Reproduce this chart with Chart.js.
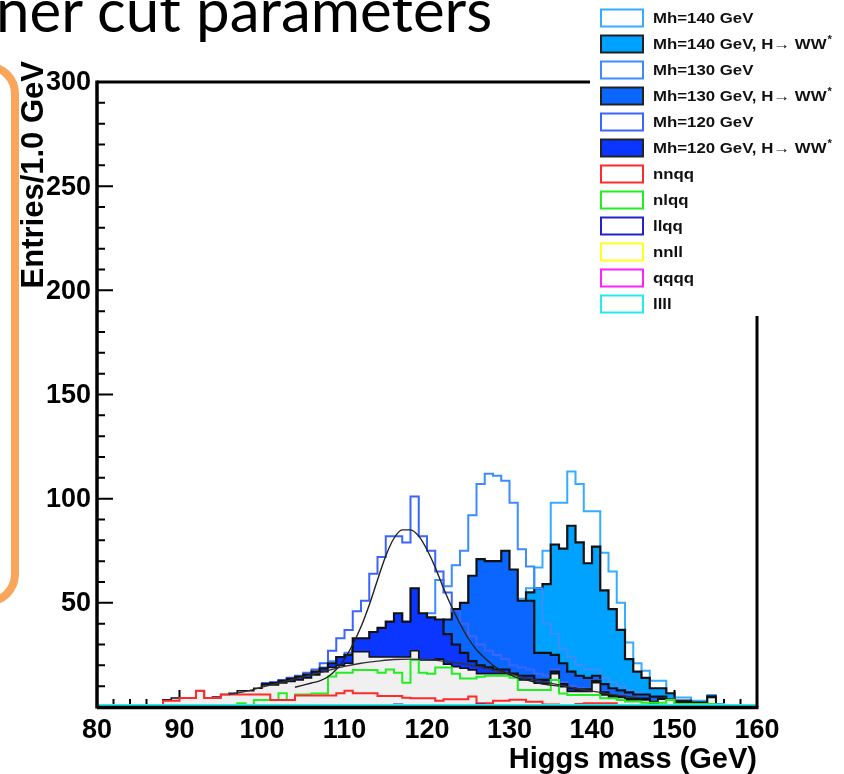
<!DOCTYPE html>
<html><head><meta charset="utf-8">
<script src="https://cdn.jsdelivr.net/npm/chart.js"></script>
<style>
html,body{margin:0;padding:0;background:#fff;overflow:hidden;}
#wrap{position:relative;width:844px;height:774px;overflow:hidden;}
#c{position:absolute;left:0;top:0;}
#title{position:absolute;left:-4px;top:-21px;font-family:Lato,"Open Sans",sans-serif;font-size:60px;line-height:1;white-space:nowrap;color:#000;}
#obox{position:absolute;left:-201px;top:62px;width:204px;height:528px;border:8px solid #F9A65A;border-radius:32px;}
</style></head><body>
<div id="wrap"><canvas id="c" width="844" height="774"></canvas><div id="obox"></div><div id="title">ner cut parameters</div></div>
<script>
// ---- axis ticks ----
const xTickLabels = [80, 90, 100, 110, 120, 130, 140, 150, 160];
const yTickLabels = [50, 100, 150, 200, 250, 300];

// ---- histograms (1 GeV bins), value of each bin starting at the given bin ----
const out140Start = 100;
const out140 = [11, 11, 12, 12.8, 13.5, 14.5, 16, 17.5, 20, 21,
  23, 28, 28, 26, 26, 26, 26, 26, 29, 26,
  27, 28, 30, 32, 34, 36, 38, 40, 43, 45,
  48, 52, 57, 67, 75, 98, 98, 113, 107, 94,
  94, 74, 65, 50, 31, 21, 17.4, 12.6, 12.6, 5.8,
  4.6, 4.6, 3, 3, 5.8, 1.5, 0.5, 0.5];
const ww140Start = 100;
const ww140 = [10.8, 10.8, 11.8, 12.5, 13.3, 14.3, 15.8, 17.3, 19.5, 20.5,
  22, 27, 27, 25, 25, 25, 25, 25, 28, 24,
  25, 26, 27, 29, 31, 33, 35, 37, 40, 42,
  45, 48, 55, 57, 59, 78, 76, 87, 79, 69,
  77, 56, 47, 37, 23, 17, 14, 9, 9, 6.6,
  3, 3, 2, 2, 5, 0.5];
const out130Start = 100;
const out130 = [11, 11.2, 12.2, 13, 14, 15, 16.5, 19, 22, 24,
  26, 30, 31, 29, 30, 32, 33, 33, 38, 40,
  45, 61, 58, 68, 75, 92, 107, 112, 111, 108.6,
  98, 75.7, 67.4, 57, 40, 35, 28, 24, 20, 18,
  18, 14, 12, 10, 8, 7, 6, 5, 5, 4,
  3, 3, 2, 2, 5, 0.5];
const ww130Start = 100;
const ww130 = [11, 11, 12, 12.8, 13.5, 14.5, 16, 17.5, 20, 21,
  22, 27.5, 27.5, 25, 26, 27, 28, 28, 31, 33,
  37, 40, 42, 47, 50, 63, 71, 70, 70, 75,
  66, 51, 51, 26, 26, 25, 21, 17, 15, 14,
  15, 11, 9, 8, 7, 6, 6, 5, 5, 3.5,
  3, 3, 2, 2, 5, 0.5];
const out120Start = 100;
const out120 = [11.5, 12, 13, 14, 15, 16.5, 18, 21, 27, 33,
  37, 46, 51, 64, 72, 82, 82, 79, 101, 82,
  75, 65, 55, 46, 40, 34, 30, 27, 25, 23,
  20, 19, 18, 16, 15, 18, 12, 10, 9, 9,
  13, 7.5, 6, 5.5, 4.5, 4, 4, 3, 4, 3,
  2.5, 2.5, 2, 2, 5, 0.5];
const ww120Start = 100;
const ww120 = [11, 11.5, 12.5, 13.5, 14.5, 15.5, 17, 18.5, 21, 24,
  25, 33, 33, 36, 38, 41, 45, 41, 57, 45,
  43, 42, 35, 30, 26, 22, 20, 19, 18, 18,
  16, 15, 15, 13, 13, 17, 11, 9, 8.5, 8.5,
  12.5, 7, 5.5, 5, 4, 4, 4, 2.5, 4, 3,
  2.5, 2.5, 2, 2, 5, 0.5];
const bgStart = 88;
const bgSum = [3.4, 4.3, 4.3, 4.3, 7.8, 4.3, 4.8, 6, 6.6, 7.8,
  7.8, 9, 10.6, 10.6, 11.5, 12.3, 13, 14, 15.4, 17,
  19, 20, 21, 26.5, 26.5, 24, 24, 24, 24, 24,
  27, 22.6, 22.6, 23, 20.6, 19.4, 18.6, 17.8, 16, 16,
  16, 16, 15.5, 13, 13, 11.4, 11.4, 16, 9.8, 7.5,
  7.5, 7.5, 11.7, 5.8, 4.6, 4.6, 3.4, 3.4, 3.4, 2,
  3.7, 3.5, 2, 2, 1.5, 1.5, 4.6, 0.5];
const nnqqStart = 88;
const nnqq = [3, 3, 4.3, 4.3, 7.8, 4.3, 4.3, 6, 6, 6,
  6, 6, 6, 3.4, 3.4, 3.4, 5.5, 5.5, 5.5, 5.5,
  5.5, 6.6, 7.8, 6.6, 6.6, 6.6, 5.3, 5.3, 5.3, 4.5,
  4.2, 4.2, 4.2, 3, 3.7, 3.7, 3.7, 5, 1.8, 1.8,
  3, 3, 3.5, 3.5, 2.5, 2.5, 1.2, 1.2, 1, 0.5,
  1.5, 1.8, 1.8, 1.8, 1.8];
const nlqqStart = 97;
const nlqq = [1.8, 1, 3.4, 3.4, 3.4, 6.6, 3.4, 6, 6, 6.5,
  6.5, 14.6, 16.5, 16.5, 17.8, 17.8, 17.8, 16.5, 18, 16.5,
  11.7, 22.6, 16.5, 16, 19, 19, 16, 13.7, 13.7, 14.5,
  15, 15, 15, 14, 8.2, 8.2, 8.2, 8.2, 13, 6.5,
  5.8, 5.8, 5.8, 5.8, 4.2, 4.2, 3.4, 2.6, 2.6, 2,
  2, 2, 3.4, 1.5, 1.5, 1.5, 1.5, 1.5, 0.5];
const llqqStart = 116;
const llqq = [1.2, 0, 0, 0, 0, 0, 0, 0, 0, 0, 1.2];
const nnllStart = 80;
const nnll = [0];
const qqqqStart = 80;
const qqqq = [0];
const llllStart = 80;
const llll = [1, 1, 1, 1, 1, 1, 1, 1, 1, 1,
  1, 1, 1, 1, 1, 1, 1, 1, 1, 1,
  1, 1, 1, 1, 1, 1, 1, 1, 1, 1,
  1, 1, 1, 1, 1, 1, 1, 1, 1, 1,
  1, 1, 1, 1, 1, 1, 1, 1, 1, 1,
  1, 1, 1, 1, 1, 1, 1, 1, 1, 1,
  1, 1, 1, 1, 1, 1, 1, 1, 1, 1,
  1, 1, 1, 1, 1, 1, 1, 1, 1, 1];

// ---- fitted curves ----
const gaussX = [104, 105, 106, 107, 108, 109, 110, 111, 112, 113, 114, 115, 116, 117, 118, 119, 120,
  121, 122, 123, 124, 125, 126, 127, 128, 129, 130, 131, 132, 133, 134, 135, 136];
const gaussY = [9.5, 10.5, 11.5, 12.5, 14.5, 18, 23, 30, 38.5, 49, 61, 72.5, 81, 85, 85, 82, 75.5,
  67, 57, 48, 40, 33, 27.5, 23.5, 20, 17.5, 15.5, 14, 13, 12, 11, 10.5, 10];
const bgFitX = [96, 98, 100, 102, 104, 106, 108, 110, 112, 114, 116, 118, 120, 122, 124, 126, 128,
  130, 132, 134, 136, 138, 140, 142, 144, 146];
const bgFitY = [6, 7.5, 9.5, 11.5, 13.5, 15.5, 17.5, 19.5, 21, 22, 22.8, 23, 22.8, 22, 21, 19.5, 17.8,
  16, 14, 12.3, 10.6, 9, 7.6, 6.3, 5.2, 4.3];

const C = {
  out140: '#35acff', fill140: '#00a2ff',
  out130: '#3d8cff', fill130: '#0a66ff',
  out120: '#3a66ff', fill120: '#0a36ff',
  red: '#ff2a2a', green: '#22ee22', blue: '#2222cc', yellow: '#ffff22', magenta: '#ff22ff', cyan: '#22eeee',
  gray: '#f0f0f0'
};

function steps(start, vals) {
  const pts = [{x: 80, y: 0}, {x: start, y: 0}];
  vals.forEach((v, i) => pts.push({x: start + i, y: v}));
  const end = start + vals.length;
  pts.push({x: end, y: vals[vals.length - 1]});
  pts.push({x: end, y: 0});
  pts.push({x: 160, y: 0});
  return pts;
}
function curve(xs, ys) { return xs.map((x, i) => ({x: x, y: ys[i]})); }

function hist(label, start, vals, color, opts) {
  return Object.assign({
    label: label, data: steps(start, vals), stepped: 'before',
    borderColor: color, backgroundColor: 'rgba(0,0,0,0)', borderWidth: 2,
    fill: false, pointRadius: 0, tension: 0
  }, opts || {});
}

const datasets = [
  hist('Mh=140 GeV', out140Start, out140, C.out140, {order: 30, legendRank: 0}),
  hist('Mh=140 GeV, H\u2192 WW*', ww140Start, ww140, '#111', {order: 29, fill: 'origin', backgroundColor: C.fill140, borderWidth: 2.2, legendRank: 1}),
  hist('Mh=130 GeV', out130Start, out130, C.out130, {order: 28, legendRank: 2}),
  hist('Mh=130 GeV, H\u2192 WW*', ww130Start, ww130, '#111', {order: 27, fill: 'origin', backgroundColor: C.fill130, borderWidth: 2.2, legendRank: 3}),
  hist('Mh=120 GeV', out120Start, out120, C.out120, {order: 26, legendRank: 4}),
  hist('Mh=120 GeV, H\u2192 WW*', ww120Start, ww120, '#111', {order: 25, fill: 'origin', backgroundColor: C.fill120, borderWidth: 2.2, legendRank: 5}),
  hist('background sum', bgStart, bgSum, '#111', {order: 24, fill: 'origin', backgroundColor: C.gray, borderWidth: 1.6}),
  hist('nlqq', nlqqStart, nlqq, C.green, {order: 23, legendRank: 7}),
  hist('nnqq', nnqqStart, nnqq, C.red, {order: 22, legendRank: 6}),
  hist('llqq', llqqStart, llqq, C.blue, {order: 21, legendRank: 8}),
  hist('nnll', nnllStart, nnll, C.yellow, {order: 20, legendRank: 9}),
  hist('qqqq', qqqqStart, qqqq, C.magenta, {order: 19, legendRank: 10}),
  hist('llll', llllStart, llll, C.cyan, {order: 18, legendRank: 11}),
  {label: 'bg fit', data: curve(bgFitX, bgFitY), borderColor: '#333', borderWidth: 1.3, pointRadius: 0,
   fill: false, cubicInterpolationMode: 'monotone', order: 2},
  {label: 'gaus fit', data: curve(gaussX, gaussY), borderColor: '#222', borderWidth: 1.4, pointRadius: 0,
   fill: false, cubicInterpolationMode: 'monotone', order: 1}
];

const FONT = '"Liberation Sans", Arial, Helvetica, "DejaVu Sans", sans-serif';

const rootFrame = {
  id: 'rootFrame',
  beforeDatasetsDraw(chart) {
    const {ctx, chartArea: a} = chart;
    const xs = chart.scales.x, ys = chart.scales.y;
    ctx.save();
    ctx.strokeStyle = '#000';
    ctx.lineWidth = 2;
    ctx.beginPath();
    for (let v = xs.min; v <= xs.max; v += 2) {
      const px = xs.getPixelForValue(v);
      const len = (v % 10 === 0) ? 17 : 8;
      ctx.moveTo(px, a.bottom); ctx.lineTo(px, a.bottom - len);
    }
    for (let v = ys.min; v <= ys.max; v += 10) {
      const py = ys.getPixelForValue(v);
      const len = (v % 50 === 0) ? 16 : 8;
      ctx.moveTo(a.left, py); ctx.lineTo(a.left + len, py);
    }
    ctx.stroke();
    ctx.restore();
  },
  afterDraw(chart) {
    const {ctx, chartArea: a} = chart;
    const xs = chart.scales.x, ys = chart.scales.y;
    ctx.save();
    // frame
    ctx.strokeStyle = '#000';
    ctx.lineWidth = 3;
    ctx.beginPath();
    ctx.moveTo(a.left, a.top); ctx.lineTo(a.right, a.top);
    ctx.moveTo(a.right, a.top); ctx.lineTo(a.right, a.bottom);
    ctx.stroke();
    ctx.lineWidth = 3.5;
    ctx.beginPath();
    ctx.moveTo(a.left, a.top - 1.5); ctx.lineTo(a.left, a.bottom + 1.5);
    ctx.moveTo(a.left, a.bottom + 0.5); ctx.lineTo(a.right + 1.5, a.bottom + 0.5);
    ctx.stroke();
    // tick labels
    ctx.fillStyle = '#000';
    ctx.font = 'bold 27px ' + FONT;
    ctx.textAlign = 'right'; ctx.textBaseline = 'middle';
    yTickLabels.forEach(v => ctx.fillText(String(v), a.left - 6, ys.getPixelForValue(v) + 1));
    ctx.textAlign = 'center'; ctx.textBaseline = 'top';
    xTickLabels.forEach(v => ctx.fillText(String(v), xs.getPixelForValue(v), a.bottom + 10));
    // axis titles
    ctx.font = 'bold 29px ' + FONT;
    ctx.textAlign = 'right'; ctx.textBaseline = 'alphabetic';
    ctx.fillText('Higgs mass (GeV)', a.right, 768);
    ctx.save();
    ctx.translate(34, 61);
    ctx.rotate(-Math.PI / 2);
    ctx.font = 'bold 31px ' + FONT;
    ctx.textAlign = 'right'; ctx.textBaseline = 'middle';
    ctx.fillText('Entries/1.0 GeV', 0, 0);
    ctx.restore();
    // legend
    ctx.fillStyle = '#fff';
    ctx.fillRect(590, 0, 254, 316);
    const items = chart.data.datasets.filter(d => d.legendRank !== undefined)
      .sort((p, q) => p.legendRank - q.legendRank);
    items.forEach((d, i) => {
      const cy = 18 + i * 26;
      const bx = 601, bw = 42, bh = 17;
      ctx.lineWidth = 2;
      if (d.fill) {
        ctx.fillStyle = d.backgroundColor; ctx.fillRect(bx, cy - bh / 2, bw, bh);
        ctx.strokeStyle = '#222';
      } else {
        ctx.fillStyle = '#fff'; ctx.fillRect(bx, cy - bh / 2, bw, bh);
        ctx.strokeStyle = d.borderColor;
      }
      ctx.strokeRect(bx, cy - bh / 2, bw, bh);
      let txt = d.label, sup = '';
      if (txt.endsWith('*')) { sup = '*'; txt = txt.slice(0, -1); }
      ctx.save();
      ctx.translate(653, cy + 1);
      ctx.scale(1.12, 1);
      ctx.fillStyle = '#111';
      ctx.font = 'bold 15px ' + FONT;
      ctx.textAlign = 'left'; ctx.textBaseline = 'middle';
      ctx.fillText(txt, 0, 0);
      if (sup) {
        const w = ctx.measureText(txt).width;
        ctx.font = 'bold 10px ' + FONT;
        ctx.fillText(sup, w + 1, -5);
      }
      ctx.restore();
    });
    ctx.restore();
  }
};

new Chart(document.getElementById('c'), {
  type: 'line',
  data: {datasets: datasets},
  options: {
    responsive: false, animation: false, devicePixelRatio: 1,
    layout: {padding: {left: 97, right: 87, top: 82, bottom: 67}},
    scales: {
      x: {type: 'linear', min: 80, max: 160, display: false},
      y: {type: 'linear', min: 0, max: 300, display: false}
    },
    plugins: {legend: {display: false}, tooltip: {enabled: false}},
    elements: {point: {radius: 0}}
  },
  plugins: [rootFrame]
});
</script>
</body></html>
